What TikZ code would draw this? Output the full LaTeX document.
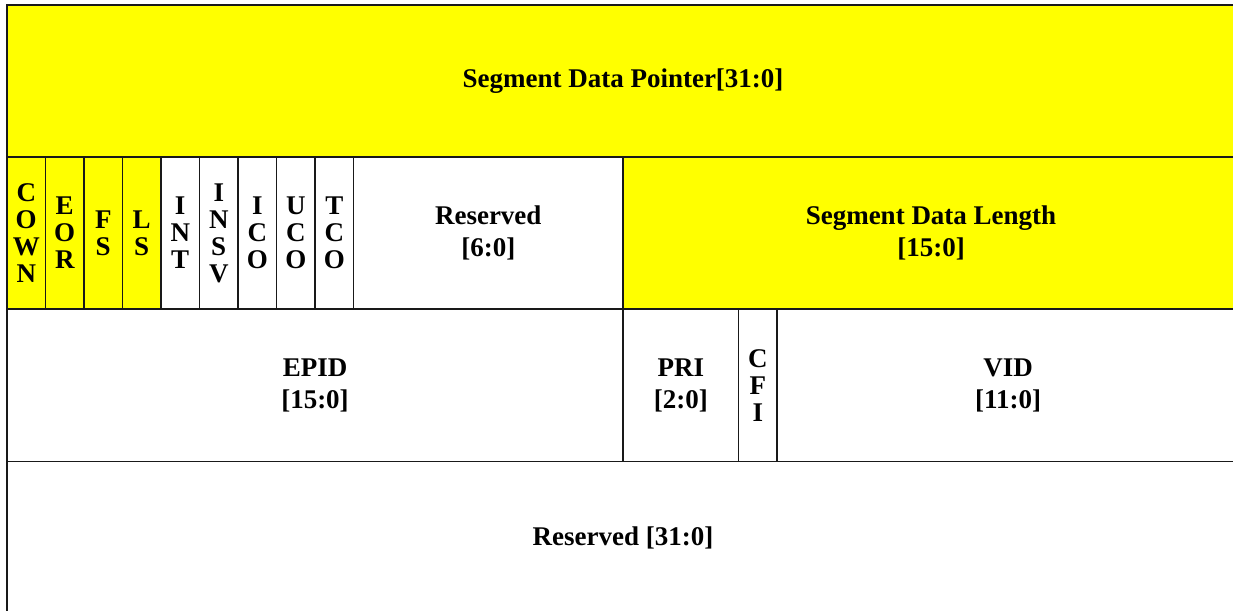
\documentclass[tikz,border=0pt]{standalone}
\usepackage{fontspec}
\setmainfont{Liberation Serif}
\usetikzlibrary{positioning}
\definecolor{fieldyellow}{RGB}{255,255,0}

\begin{document}
\begin{tikzpicture}[x=1pt,y=-1pt,line width=1.2pt,
  field node/.style={draw=black!90,rectangle,inner sep=0pt,outer sep=0pt,minimum height=152pt,
    align=center,font=\fontsize{27}{32}\selectfont\bfseries},
  bit node/.style={field node,minimum width=38.5pt,font=\fontsize{27}{27}\selectfont\bfseries},
  set node/.style={fill=fieldyellow}]

  \clip (0,0) rectangle (1233,610);

  % word 0
  \node[field node,set node,minimum width=1232pt,anchor=north west] (sdp) at (7,5) {Segment Data Pointer[31:0]};
  % word 1
  \node[bit node,set node,below=0pt of sdp.south west,anchor=north west] (cown) {C\\O\\W\\N};
  \node[bit node,set node,right=0pt of cown] (eor) {E\\O\\R};
  \node[bit node,set node,right=0pt of eor] (fs) {F\\S};
  \node[bit node,set node,right=0pt of fs] (ls) {L\\S};
  \node[bit node,right=0pt of ls] (int) {I\\N\\T};
  \node[bit node,right=0pt of int] (insv) {I\\N\\S\\V};
  \node[bit node,right=0pt of insv] (ico) {I\\C\\O};
  \node[bit node,right=0pt of ico] (uco) {U\\C\\O};
  \node[bit node,right=0pt of uco] (tco) {T\\C\\O};
  \node[field node,minimum width=269.5pt,right=0pt of tco] (rsv1) {Reserved\\{[6:0]}};
  \node[field node,set node,minimum width=616pt,right=0pt of rsv1] (sdl) {Segment Data Length\\{[15:0]}};
  % word 2
  \node[field node,minimum width=616pt,minimum height=152.5pt,below=0pt of cown.south west,anchor=north west] (epid) {EPID\\{[15:0]}};
  \node[field node,minimum width=115.5pt,minimum height=152.5pt,right=0pt of epid] (pri) {PRI\\{[2:0]}};
  \node[bit node,minimum height=152.5pt,right=0pt of pri] (cfi) {C\\F\\I};
  \node[field node,minimum width=462pt,minimum height=152.5pt,right=0pt of cfi] (vid) {VID\\{[11:0]}};
  % word 3
  \node[field node,minimum width=1232pt,below=0pt of epid.south west,anchor=north west] (rsv3) {Reserved [31:0]};
\end{tikzpicture}
\end{document}
